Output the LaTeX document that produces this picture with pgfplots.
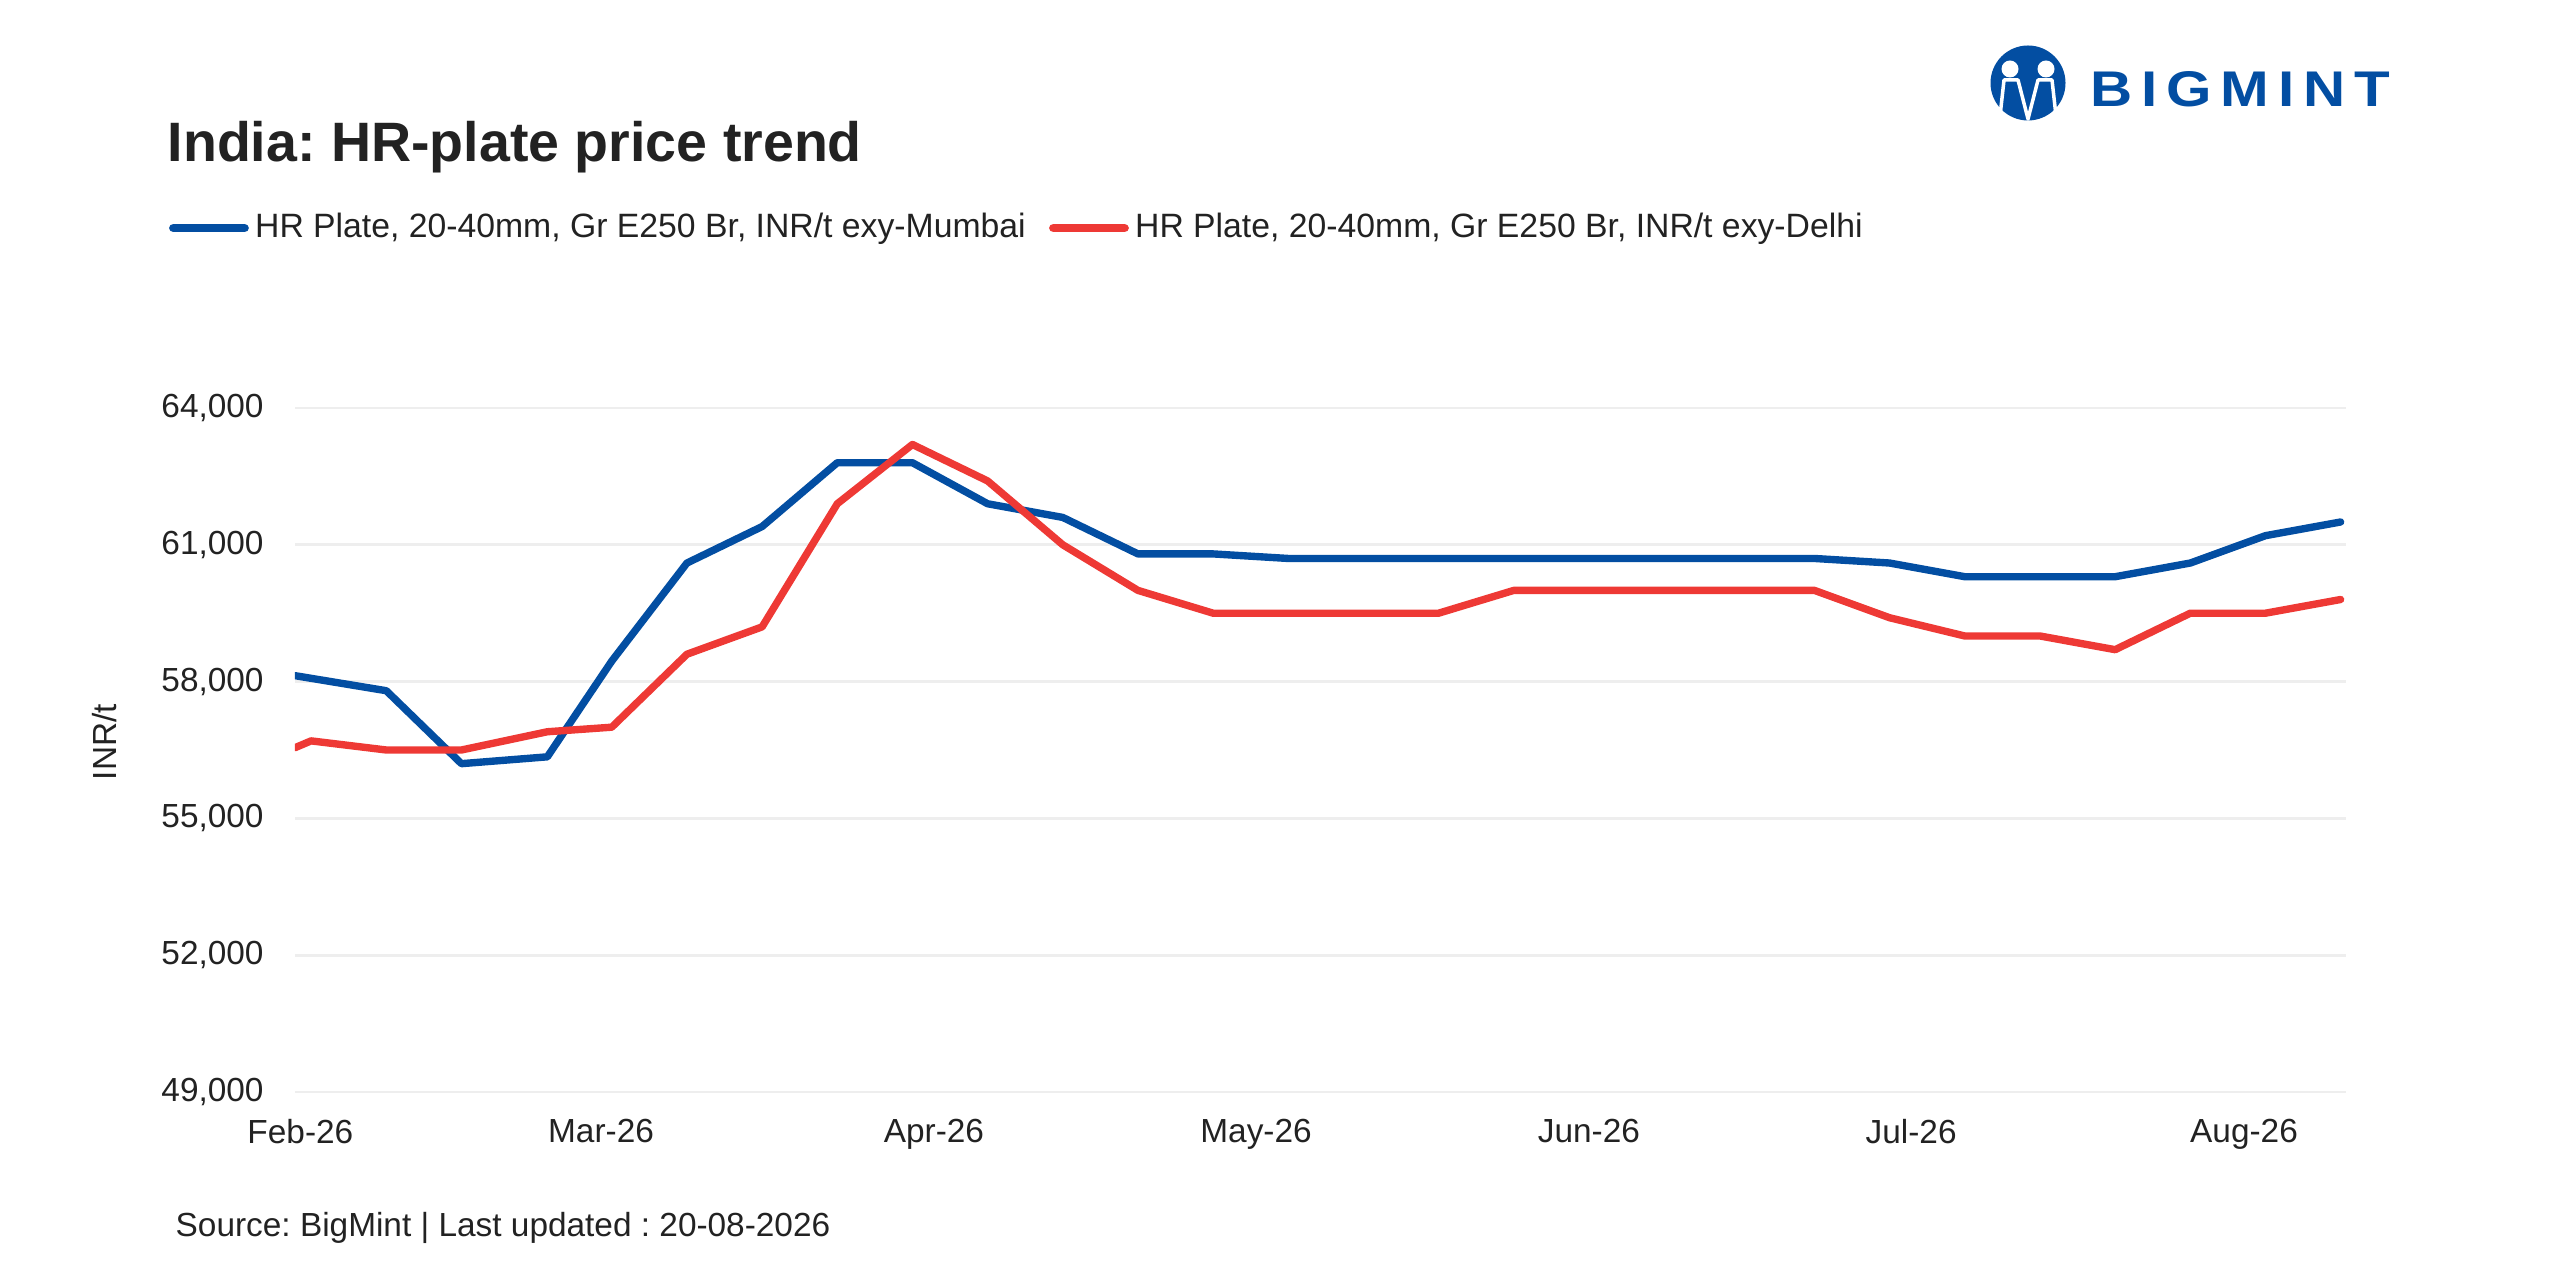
\documentclass[border=0pt]{standalone}
\usepackage{fontspec}
\setmainfont{Liberation Sans}
\usepackage{graphicx}
\usepackage{pgfplots}
\usepackage{pgfplotstable}
\pgfplotsset{compat=1.18}
\definecolor{mblue}{HTML}{034EA2}
\definecolor{mred}{HTML}{EE3935}
\definecolor{txt}{HTML}{222222}
\definecolor{gridc}{HTML}{EEEEEE}
\frenchspacing

\pgfplotstableread{
d v
-0.5 58130
8 57800
15 56200
23 56350
29 58450
36 60600
43 61400
50 62800
57 62800
64 61900
71 61600
78 60800
85 60800
92 60700
99 60700
106 60700
113 60700
120 60700
127 60700
134 60700
141 60700
148 60600
155 60300
162 60300
169 60300
176 60600
183 61200
190 61500
}\mumbai

\pgfplotstableread{
d v
-0.5 56550
1 56700
8 56500
15 56500
23 56900
29 57000
36 58600
43 59200
50 61900
57 63200
64 62400
71 61000
78 60000
85 59500
92 59500
99 59500
106 59500
113 60000
120 60000
127 60000
134 60000
141 60000
148 59400
155 59000
162 59000
169 58700
176 59500
183 59500
190 59800
}\delhi

\begin{document}
\begin{tikzpicture}
\path[use as bounding box] (0mm,0mm) rectangle (256mm,-128mm);
\begin{axis}[
  at={(29.5mm,-109.2mm)}, anchor=south west,
  scale only axis, width=205.1mm, height=68.4mm,
  xmin=-0.5, xmax=190.5, ymin=49000, ymax=64000,
  ytick={49000,52000,55000,58000,61000,64000},
  yticklabels={{49,000},{52,000},{55,000},{58,000},{61,000},{64,000}},
  scaled y ticks=false,
  xtick={0,28,59,89,120,150,181},
  xticklabels={Feb-26,Mar-26,Apr-26,May-26,Jun-26,Jul-26,Aug-26},
  axis line style={draw=none},
  major tick length=0pt,
  ymajorgrids, grid style={gridc, line width=0.8pt},
  tick label style={font=\fontsize{9.5}{11}\selectfont, text=txt},
  yticklabel style={xshift=-1.9mm},
  xticklabel style={yshift=-1.5mm},
  legend columns=2,
  legend style={at={(-0.0636,1.263)}, anchor=west, draw=none, fill=none,
    inner sep=0pt, font=\fontsize{9.6}{11}\selectfont, text=txt,
    /tikz/every even column/.append style={column sep=1.7mm},
    nodes={inner sep=0.25mm}},
  legend cell align=left,
  legend image code/.code={\draw[#1, line width=2.5pt, line cap=round] (0.45mm,0mm) -- (7.55mm,0mm); \path (0mm,0mm) (8mm,0mm);},
]
\addplot[mblue, line width=2.1pt, line join=round, line cap=round] table[x=d,y=v] {\mumbai};
\addlegendentry{HR Plate, 20-40mm, Gr E250 Br, INR/t exy-Mumbai}
\addplot[mred, line width=2.1pt, line join=round, line cap=round] table[x=d,y=v] {\delhi};
\addlegendentry{HR Plate, 20-40mm, Gr E250 Br, INR/t exy-Delhi}
\end{axis}
% title
\node[anchor=base west, inner sep=0, text=txt, font=\fontsize{15.8}{18}\selectfont\bfseries] at (16.7mm,-16.2mm) {India: HR-plate price trend};
% y label
\node[rotate=90, anchor=center, inner sep=0, text=txt, font=\fontsize{9.5}{11}\selectfont] at (10.5mm,-74.2mm) {INR/t};
% source
\node[anchor=base west, inner sep=0, text=txt, font=\fontsize{9.5}{11}\selectfont] at (17.5mm,-123.7mm) {Source: BigMint | Last updated : 20-08-2026};
% logo
\fill[mblue] (202.8mm,-8.3mm) circle (3.75mm);
\fill[white] (201.0mm,-6.9mm) circle (0.85mm);
\fill[white] (204.6mm,-6.9mm) circle (0.85mm);
\draw[white, line width=0.35mm, line join=round] (200.0mm,-11.6mm) -- (200.4mm,-8.0mm) -- (201.8mm,-8.0mm) -- (202.8mm,-11.9mm) -- (203.8mm,-8.0mm) -- (205.2mm,-8.0mm) -- (205.6mm,-11.6mm);
\node[anchor=south west, inner sep=0, text=mblue] at (209.0mm,-10.8mm) {\resizebox{29.9mm}{3.5mm}{\bfseries\addfontfeature{LetterSpace=15}BIGMINT}};
\end{tikzpicture}
\end{document}
